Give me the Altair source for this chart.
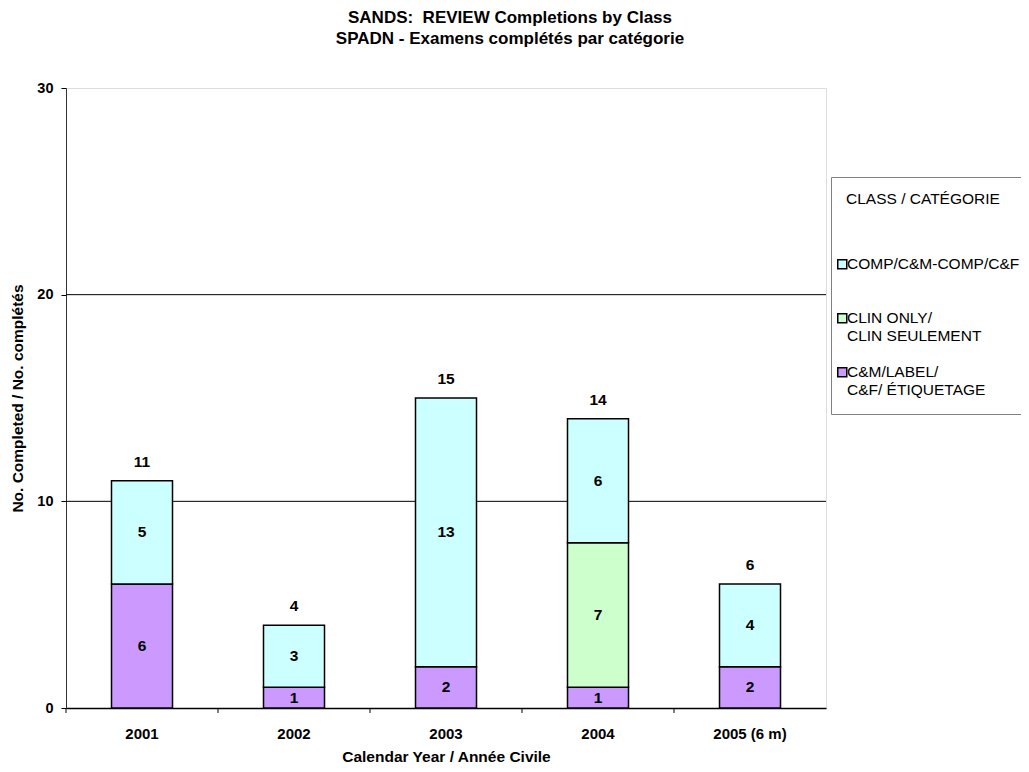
import altair as alt
import pandas as pd

years = ["2001", "2002", "2003", "2004", "2005 (6 m)"]
cm_label = [6, 1, 2, 1, 2]
clin_only = [0, 0, 0, 7, 0]
comp = [5, 3, 13, 6, 4]
class_names = ["C&M/LABEL/|C&F/ ÉTIQUETAGE", "CLIN ONLY/|CLIN SEULEMENT", "COMP/C&M-COMP/C&F"]
class_colors = ["#CC99FF", "#CCFFCC", "#CCFFFF"]
y_ticks = [0, 10, 20, 30]
grid_values = [10, 20]

FONT = "Liberation Sans"

rows = []
for i, y in enumerate(years):
    base = 0
    for k, vals in enumerate([cm_label, clin_only, comp]):
        v = vals[i]
        if v > 0:
            rows.append({"year": y, "cls": class_names[k], "value": v, "ord": k,
                         "mid": base + v / 2})
        base += v
df = pd.DataFrame(rows)
totals = pd.DataFrame({"year": years,
                       "total": [a + b + c for a, b, c in zip(cm_label, clin_only, comp)]})
grid_df = pd.DataFrame({"v": grid_values})
tick_df = pd.DataFrame({"year": years})

xscale = alt.Scale(domain=years, paddingInner=0, paddingOuter=0)
yscale = alt.Scale(domain=[0, 30], nice=False, zero=True)

xaxis = alt.Axis(title="Calendar Year / Année Civile", labelAngle=0, ticks=False,
                 labelPadding=18, titlePadding=8, domainColor="black", domainWidth=1.5,
                 labelFontSize=15, titleFontSize=15.5, labelFontWeight="bold",
                 titleFontWeight="bold", labelFont=FONT, titleFont=FONT)
yaxis = alt.Axis(title="No. Completed / No. complétés", values=y_ticks, grid=False,
                 tickSize=5, tickColor="black", domainColor="#333333", labelPadding=8,
                 titlePadding=11, labelFontSize=14.5, titleFontSize=15.5,
                 labelFontWeight="bold", titleFontWeight="bold", labelFont=FONT,
                 titleFont=FONT)

X = alt.X("year:N", scale=xscale, sort=years, axis=xaxis)

grid = alt.Chart(grid_df).mark_rule(color="black", strokeWidth=1).encode(
    y=alt.Y("v:Q", scale=yscale, axis=yaxis)
)

bars = alt.Chart(df).mark_bar(size=61, stroke="black", strokeWidth=1.5).encode(
    x=X,
    y=alt.Y("value:Q", stack="zero", scale=yscale, axis=yaxis),
    color=alt.Color("cls:N",
                    scale=alt.Scale(domain=[class_names[2], class_names[1], class_names[0]],
                                    range=[class_colors[2], class_colors[1], class_colors[0]]),
                    legend=alt.Legend(
                        title="CLASS / CATÉGORIE",
                        orient="none", legendX=765, legendY=89,
                        titleFontWeight="normal", titleFontSize=15.5, titleFont=FONT,
                        titlePadding=49, labelFontSize=15.5, labelFont=FONT,
                        labelExpr="split(datum.label, '|')", labelLimit=400,
                        symbolType="square", symbolSize=81, symbolStrokeColor="black",
                        symbolStrokeWidth=1.5, strokeColor="#808080", padding=15,
                        symbolOffset={"expr": "-11.5"}, labelOffset={"expr": "-3"},
                        rowPadding=20, gridAlign="all", fillColor="white")),
    order=alt.Order("ord:Q"),
)

xticks = alt.Chart(tick_df).mark_rule(color="black", strokeWidth=1).encode(
    x=alt.X("year:N", scale=xscale, sort=years, bandPosition=0, axis=xaxis),
    y=alt.value(620),
    y2=alt.value(625),
)

seg_text = alt.Chart(df).mark_text(fontWeight="bold", fontSize=15.5, font=FONT,
                                   baseline="middle").encode(
    x=X,
    y=alt.Y("mid:Q", scale=yscale, axis=yaxis),
    text="value:Q",
)

tot_text = alt.Chart(totals).mark_text(fontWeight="bold", fontSize=15.5, font=FONT,
                                       baseline="middle", dy=-19).encode(
    x=X,
    y=alt.Y("total:Q", scale=yscale, axis=yaxis),
    text="total:Q",
)

chart = alt.layer(grid, bars, xticks, seg_text, tot_text).properties(
    width=760,
    height=620,
    title=alt.TitleParams(["SANDS:\u00a0 REVIEW Completions by Class",
                           "SPADN - Examens complétés par catégorie"],
                          fontSize=17, fontWeight="bold", font=FONT, anchor="middle",
                          dx=64, offset=32, lineHeight=21, color="black"),
    autosize=alt.AutoSizeParams(type="none"),
    padding={"left": 58, "top": 80, "right": 195, "bottom": 56},
).configure_view(
    stroke="#808080", strokeWidth=2
).configure_axis(
    labelFont=FONT, titleFont=FONT,
    labelFontWeight="bold", titleFontWeight="bold", labelColor="black", titleColor="black",
).configure(font=FONT)

chart.save("out.html", embed_options={"renderer": "svg", "actions": False})
